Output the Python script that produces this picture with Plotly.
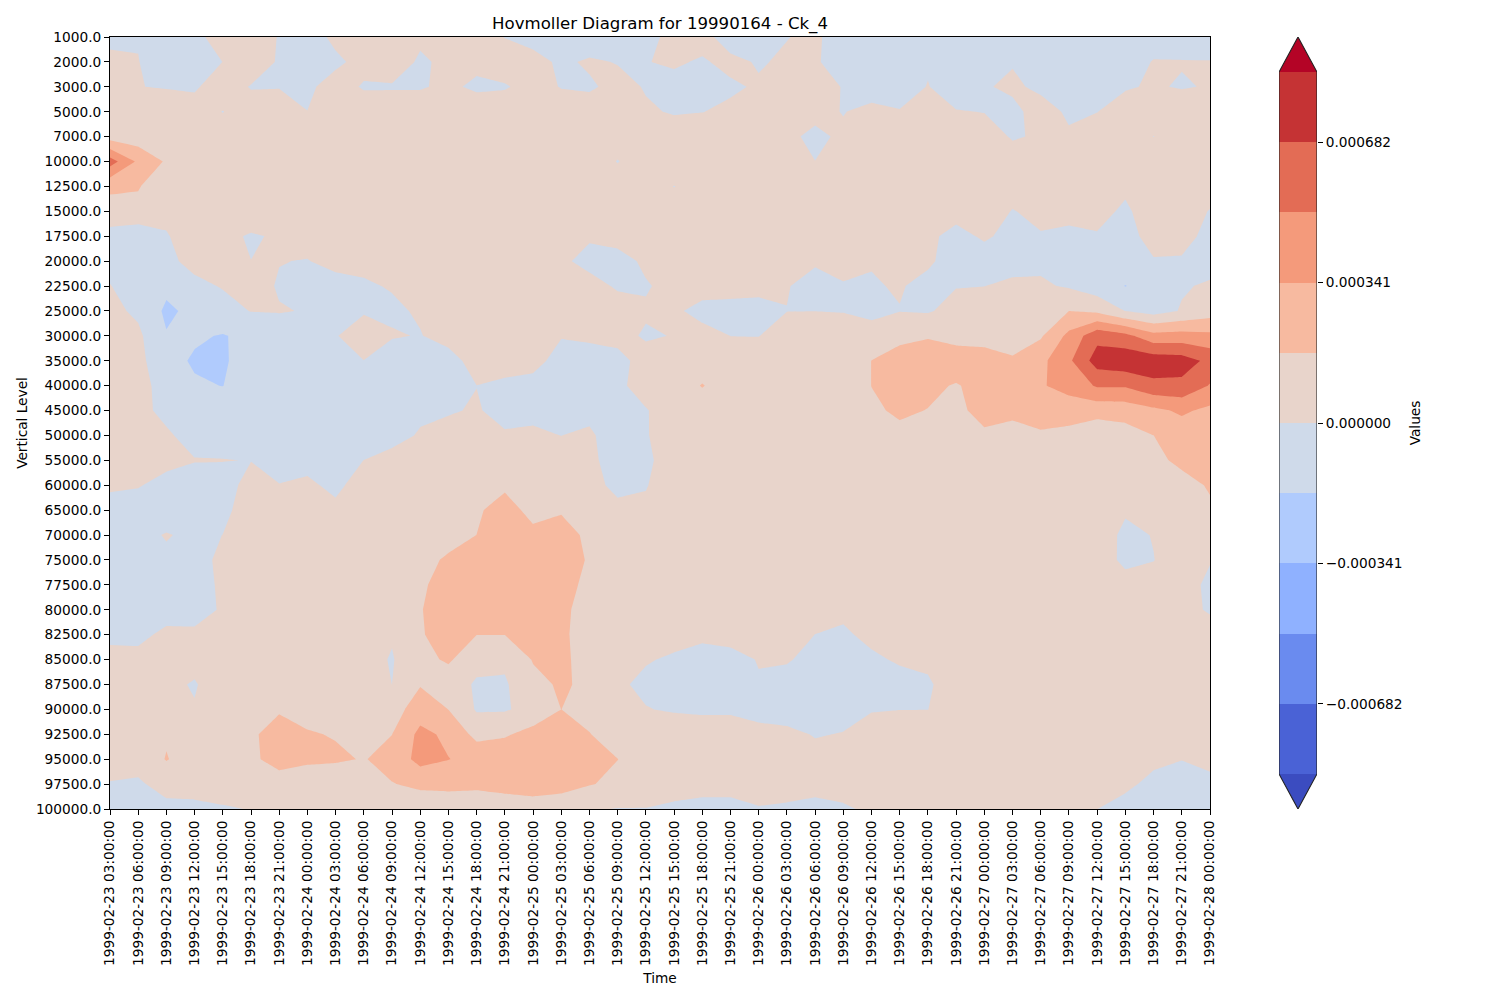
import plotly.graph_objects as go

FONT = "DejaVu Sans"

times = [
    "1999-02-23 03:00:00", "1999-02-23 06:00:00", "1999-02-23 09:00:00", "1999-02-23 12:00:00",
    "1999-02-23 15:00:00", "1999-02-23 18:00:00", "1999-02-23 21:00:00", "1999-02-24 00:00:00",
    "1999-02-24 03:00:00", "1999-02-24 06:00:00", "1999-02-24 09:00:00", "1999-02-24 12:00:00",
    "1999-02-24 15:00:00", "1999-02-24 18:00:00", "1999-02-24 21:00:00", "1999-02-25 00:00:00",
    "1999-02-25 03:00:00", "1999-02-25 06:00:00", "1999-02-25 09:00:00", "1999-02-25 12:00:00",
    "1999-02-25 15:00:00", "1999-02-25 18:00:00", "1999-02-25 21:00:00", "1999-02-26 00:00:00",
    "1999-02-26 03:00:00", "1999-02-26 06:00:00", "1999-02-26 09:00:00", "1999-02-26 12:00:00",
    "1999-02-26 15:00:00", "1999-02-26 18:00:00", "1999-02-26 21:00:00", "1999-02-27 00:00:00",
    "1999-02-27 03:00:00", "1999-02-27 06:00:00", "1999-02-27 09:00:00", "1999-02-27 12:00:00",
    "1999-02-27 15:00:00", "1999-02-27 18:00:00", "1999-02-27 21:00:00", "1999-02-28 00:00:00",
]
vertical_levels = [
    "1000.0", "2000.0", "3000.0", "5000.0", "7000.0", "10000.0", "12500.0", "15000.0",
    "17500.0", "20000.0", "22500.0", "25000.0", "30000.0", "35000.0", "40000.0", "45000.0",
    "50000.0", "55000.0", "60000.0", "65000.0", "70000.0", "75000.0", "77500.0", "80000.0",
    "82500.0", "85000.0", "87500.0", "90000.0", "92500.0", "95000.0", "97500.0", "100000.0",
]

# Values, in units of 1e-5 (one row per vertical level)
values_e5 = [
 [-3,-.6,-6,-3,5,8,-.8,-5,2.4,6, 5,2,6,5,-.3,-4,-4,-7,-5,-3, 3,3.5,-5,-5,-.3,2,-6,-7,-7,-7, -7,-7,-7,-7,-7,-7,-7,-7,-7,-7],
 [3,.3,-6,-5,.1,8,-1.5,-6,-2,3.3, 6,-1.6,2.4,2.6,6,4,-2,1.5,-.5,-.3, 1.2,-1,2.5,-.9,1.5,1,-4,-7,-7,-1.5, -7,-7,-1.3,-7,-7,-7,-7,.8,.6,.5],
 [5,.2,-.6,-1.5,6.4,-.8,-.5,-2,4.3,-1, -1,-.9,2,-2,-1,4,-.5,-1.5,3.2,-.7, -3,-6,-1.5,1.1,6,7,-.8,-4,-6,.5, -7,-1.6,3.4,-4,-7,-6,-1,1.1,-.9,.8],
 [7,7,6,5,-.3,6,6,.1,6,6, 7,6,7,7,7,6,6,5.6,6,1.2, -.8,-.2,1.9,6,6,2,-.3,2.2,.7,7, .7,-.3,-5,8,-3,-.2,5,5,8,6],
 [9.7,7.7,6,6,6,6,6,6,6,6, 7,7,7,7,7,6,6,6,6,6, 5,6,6,6,1.5,-1.6,1.3,6,6,7, 6,5,-1,1.2,2.5,6,6,-.2,6,6],
 [59,31,15,7,7,7,7,7,7,7, 7,7,7,7,7,7,7,7,-.5,7, 7,7,7,7,7,.05,7,7,7,7, 7,7,5,7,7,7,7,7,7,7],
 [20,18,8,7,7,7,7,7,7,7, 7,7,7,7,7,7,7,7,7,7, -.3,7,7,7,7,7,7,7,7,7, 7,7,5,7,7,7,2.4,7,7,5],
 [11,13,3.5,6,6,5,7,7,7,7, 7,7,7,7,7,7,7,7,7,7, 7,7,7,7,7,7,7,7,7,7, 5,6,-.5,3,4,4,-2.15,7,5,-.5],
 [-6.6,-12,-1,7,2,-.8,.9,5,6,6, 6,6,6,6,6,6,6,2,5,6, 6,6,6,6,6,6,6,6,6,3, -4.5,2,-4.2,-.8,-3,-1,-4,4,4,-3.4],
 [-7,-8,-3.5,4.4,6,.05,.35,-.5,4,4, 6,7,7,7,7,7,3,-5,-5,2.4, 6,6,6,6,6,1.5,6,.7,5,2, -5.7,-7,-3,-3,-6,-6,-7,-.8,-1.2,-6],
 [.7,-10,-13.3,-3.6,1,5,-1.1,-6,-5,-2, 1.2,6,7,7,7,7,6,6,-2,-1.1, 4,6,5,5,.7,-4.7,-1.4,-1,1,-3.7, -.6,-.1,1.6,2,-1.6,-9,-17.5,-10,-1.5,2],
 [4.3,-3,-20,-13,-5.7,.5,.7,-.6,-8,-1, -3,2,7,7,7,7,6,6,7.5,1.5, 2.4,-4.5,-4.6,-6,-.2,-.1,-.5,-3,-.4,-1.5, 5.4,6,7,8,17,13.6,-.3,-7,1.2,8.5],
 [6,3.3,-16,-15,-18,-13,-7,-7,-.6,5.7, 1.5,-.8,7,7,7,6,.5,2,4,-1.5, .5,4.9,-.1,-.3,7,8,6,5,14,16, 12,12,10,15,38.6,63,56,40,41,38.5],
 [6,4.7,-12,-18.8,-20,-6.4,-8,-8,-8,-.1, -10,-9,-7.6,8,3,3,-3.4,-5,-4,5, 7,7,8,7,7,7,7,17.2,22,24, 25,23,18.9,29.6,48,76,80,78,76,64],
 [6,4,-4.5,-15.3,-17.3,-8,-8,-8,-8,-8, -8,-8,-6,-.1,-1.4,-3,-6,-6,-2,4, 7,18,7,7,7,7,7,17.2,20,20, 16,22,24,32.5,40,53,53,64,64,50],
 [6,3,-2.7,-7,-8,-8,-8,-8,-8,-8, -7,-3.4,-.8,.8,-3,-3,-5,-4,-5,-.6, 5,7,7,7,7,7,7,15,19,16.7, 15,20,21,24,25,23,24,30,37,30],
 [6,6,1.5,-4,-6,-6,-6,-6,-6,-6, -6,1.7,3,6,1,2,-.1,2.3,-8,-.8, 6,7,7,7,7,7,7,7,14,8, 8,15.6,11,15,12,6,10,17,24,24],
 [6,6,3,.5,.4,-.3,-5,-4,-7,.1, 6,7,7,7,7,7,6,3,-6,-2, 5,7,7,7,7,7,7,7,7,7, 7,7,7,7,7,7,7,12,21.5,23],
 [2,.7,-3.6,-5,-6,5,.4,2.4,-3,6, 7,7,7,7,15,6,6,4,-3,-.6, 6,7,7,7,7,7,7,7,7,7, 7,7,7,7,7,7,7,8,10,19],
 [-5,-5,-8,-8,-3,6,7,7,3,7, 7,7,8,15.4,22,13.4,14.5,8,3,2, 6,7,7,7,7,7,7,7,7,7, 7,7,7,7,7,7,1.5,6,7,14],
 [-6,-4,.9,-3,.1,7,7,7,7,7, 7,8,13,17.1,25,20,28,11.3,7,7, 7,7,7,7,7,7,7,7,7,7, 7,7,7,7,7,7.3,-3,.5,7,7],
 [-6,-6,-2.5,-3,1.8,7,7,7,7,7, 7,13.6,18.6,24,27,27,26,15.3,8,7, 7,7,7,7,7,7,7,7,7,7, 7,7,7,7,7,7,-3,-.3,7,1],
 [-6,-6,-6,-3,1.2,7,7,7,7,7, 8,14,25,27,27,27,27,10.3,8,7, 7,7,7,7,7,7,7,7,7,7, 7,7,7,7,7,7,5,5,8,-4],
 [-5,-6,-5,-5,1.4,7,7,7,7,7, 9,16.3,24,27,25,24,22,8,8,7, 7,7,7,7,4,4,3.4,7,7,7, 7,7,7,7,7,7,7,7,6,-2],
 [-2.5,-3,2.7,2.4,7,7,7,7,7,7, 1.2,15.6,24,17.3,17.3,20,22,5,6,6, 3,3,4,6,5,-.1,-2.5,4,7,7, 7,7,7,7,7,7,7,8,8,8.5],
 [3.6,3.6,7,2.6,7,7,7,7,7,5, -1,11,19.8,3,3,18,22,7.7,5,.7, -1.2,-5.6,-3.7,.6,.7,-2.5,-6,-2.8,2,1.5, 6,7,7,7,7,7,7,7,7,7],
 [6,6,1.9,-.7,5,7,7,7,7,8, -.05,16,5,-1.2,-2,12.7,19,14,1.5,-2, -7,-7,-7,-1,-3,-6,-7,-8,-6,-1, 4,7,7,7,7,7,7,7,7,7],
 [6,6,6,.6,7,12,14.2,13,8,8, 9.5,26,16.9,-1.5,-1.5,5,17.1,13,7,.4, -1,-2,-2,-6,-8,-9,-6,-1,-.2,-.1, 5,7,7,7,7,7,7,7,7,7],
 [6,6,15,8,10,12.6,29,18,16.3,10, 16.9,38.5,30.7,12,15,23,25,17.5,10,8, 6.5,6.7,6.7,5.3,4,-1,.7,6.7,7,7, 7,7,7,7,7,7,7,7,7,7],
 [4,4,18,8,12,14.5,22,20,19,16.3, 22,40,34.5,29,30,27,26,22,17.2,10, 7,7,7,7,7,5,7,7,7,7, 7,7,7,7,7,7,6,4,.4,4],
 [-.5,-1.5,4,5,5,8,11,7,6,9, 16.5,20,20,20,20,22,22,18,13.6,6, 5,5,5,7,5,5,5,6,6,6, 6,6,6,6,6,5,4,-5,-7,-4],
 [-3,-4,-3,-3,-1,.4,5,5,5,5, 6,8,10,8,12.3,12,9,1.5,-.5,-.3, -2.2,-4.4,-4.4,-1,-1.8,-4.4,-1.6,2,5,5, 5,5,5,5,5,.1,-7,-8,-8,-8],
]
z = [[v * 1e-5 for v in row] for row in values_e5]

# Filled-contour levels and the colour of each band
contour_levels = [-0.0008525, -0.000682, -0.0005115, -0.000341, -0.0001705, 0.0,
                  0.0001705, 0.000341, 0.0005115, 0.000682, 0.0008525]
band_colors = ["#3b4cc0", "#4a62d6", "#6a8bef", "#8fb1ff", "#b0cbfd", "#cfdaea",
               "#e8d4cb", "#f7baa0", "#f49a7b", "#e36c55", "#c53334", "#b40426"]
colorbar_ticks = [-0.000682, -0.000341, 0.0, 0.000341, 0.000682]
colorbar_labels = ["−0.000682", "−0.000341", "0.000000", "0.000341", "0.000682"]

step = contour_levels[1] - contour_levels[0]
tip = step * 35 / 70.1
n_bands = len(band_colors)
scale = [[i / (n_bands - 1), c] for i, c in enumerate(band_colors)]

# The page puts the figure 8 px in from the window's corner
PAGE_MARGIN = 8
W, H = 1500 - PAGE_MARGIN, 1000 - PAGE_MARGIN
px_x = lambda p: (p - PAGE_MARGIN) / W
px_y = lambda p: 1 - (p - PAGE_MARGIN) / H

fig = go.Figure()
fig.add_trace(go.Contour(
    x=times, y=vertical_levels, z=z,
    colorscale=scale, showscale=False,
    autocontour=False,
    contours=dict(start=contour_levels[0], end=contour_levels[-1] + step * 0.01, size=step,
                  coloring="fill", showlines=False),
    line=dict(width=0, smoothing=0),
    hoverinfo="skip",
))

# Colour bar drawn on its own axes from the level list
for i in range(len(contour_levels) - 1):
    fig.add_trace(go.Bar(x=[0.5], y=[step], base=[contour_levels[i]], width=[1],
                         marker=dict(color=band_colors[i + 1], line=dict(width=0)),
                         xaxis="x2", yaxis="y2", showlegend=False, hoverinfo="skip"))
low, high = contour_levels[0], contour_levels[-1]
fig.add_trace(go.Scatter(x=[0, 1, 0.5, 0], y=[high, high, high + tip, high], mode="lines",
                         fill="toself", fillcolor=band_colors[-1], line=dict(width=0),
                         xaxis="x2", yaxis="y2", showlegend=False, hoverinfo="skip"))
fig.add_trace(go.Scatter(x=[0, 1, 0.5, 0], y=[low, low, low - tip, low], mode="lines",
                         fill="toself", fillcolor=band_colors[0], line=dict(width=0),
                         xaxis="x2", yaxis="y2", showlegend=False, hoverinfo="skip"))
fig.add_trace(go.Scatter(x=[0, 0.5, 1, 1, 0.5, 0, 0], y=[high, high + tip, high, low, low - tip, low, high],
                         mode="lines", line=dict(color="#222222", width=1.1),
                         xaxis="x2", yaxis="y2", showlegend=False, hoverinfo="skip", cliponaxis=False))

tickfont = dict(family=FONT, size=13.7, color="black")
fig.update_layout(
    width=W, height=H, autosize=False,
    margin=dict(l=0, r=0, t=0, b=0),
    paper_bgcolor="white", plot_bgcolor="white",
    showlegend=False, barmode="overlay", bargap=0,
    font=dict(family=FONT, size=13.7, color="black"),
    title=dict(text="Hovmoller Diagram for 19990164 - Ck_4", x=px_x(660), y=px_y(23.5),
               xanchor="center", yanchor="middle", font=dict(family=FONT, size=16.6, color="black")),
    xaxis=dict(domain=[px_x(110), px_x(1210)], anchor="y", type="category", automargin=False,
               categoryorder="array", categoryarray=times, range=[0, len(times) - 1],
               tickmode="array", tickvals=times, ticktext=times, tickangle=-90,
               ticks="outside", ticklen=5, tickwidth=1.1, tickcolor="black", tickfont=tickfont,
               showgrid=False, zeroline=False, showline=True, linecolor="black", linewidth=1.1, mirror=True,
               title=dict(text="Time", font=dict(family=FONT, size=13.7), standoff=8)),
    yaxis=dict(domain=[px_y(809), px_y(37)], anchor="x", type="category", automargin=False,
               categoryorder="array", categoryarray=vertical_levels, range=[len(vertical_levels) - 1, 0],
               tickmode="array", tickvals=vertical_levels, ticktext=vertical_levels,
               ticks="outside", ticklen=5, tickwidth=1.1, tickcolor="black", tickfont=tickfont,
               showgrid=False, zeroline=False, showline=True, linecolor="black", linewidth=1.1, mirror=True,
               title=dict(text="Vertical Level", font=dict(family=FONT, size=13.7), standoff=5)),
    xaxis2=dict(domain=[px_x(1279), px_x(1317)], anchor="y2", range=[0, 1], automargin=False,
                showticklabels=False, ticks="", showgrid=False, zeroline=False, showline=False),
    yaxis2=dict(domain=[px_y(809), px_y(37)], anchor="x2", side="right", automargin=False,
                range=[low - tip, high + tip],
                tickmode="array", tickvals=colorbar_ticks, ticktext=colorbar_labels,
                ticks="outside", ticklen=5, tickwidth=1.1, tickcolor="black", tickfont=tickfont,
                showgrid=False, zeroline=False, showline=False,
                title=dict(text="Values", font=dict(family=FONT, size=13.7), standoff=8)),
)
fig.write_html("out.html")
